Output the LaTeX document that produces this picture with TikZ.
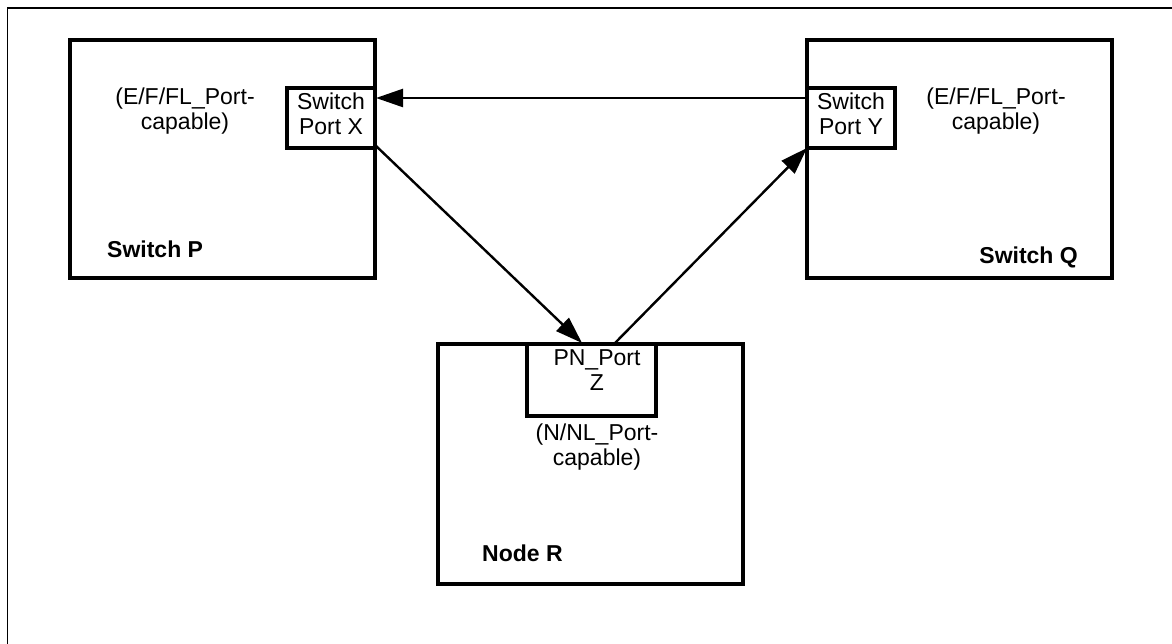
\documentclass[tikz,border=0pt]{standalone}
\usepackage{fontspec}
\setmainfont{Liberation Sans}
\usetikzlibrary{arrows.meta}
\begin{document}
\begin{tikzpicture}[x=1pt,y=-1pt,
  bigbox/.style={draw,line width=3.2pt,inner sep=0pt},
  portbox/.style={draw,line width=3.2pt,inner sep=0pt},
  txt/.style={font=\fontsize{23}{25}\selectfont,align=center,inner sep=0pt},
  lbl/.style={font=\fontsize{23}{25}\selectfont\bfseries,inner sep=0pt},
  conn/.style={line width=2.4pt,-{Triangle[length=27pt,width=18pt]}}]
\useasboundingbox (0,0) rectangle (1172,644);
\draw[line width=1.8pt] (7.5,644) -- (7.5,8) -- (1172,8);
% Switch P
\draw[bigbox] (70,40) rectangle (375,278);
\draw[portbox] (287,88) rectangle (375,148);
\node[draw=none,inner sep=0pt,minimum width=88pt,minimum height=60pt] (X) at (331,118) {};
\node[txt] (xt) at (331,114) {Switch\\Port X};
\node[txt] (pc) at (185,111) {(E/F/FL\_Port-\\capable)};
\node[lbl,anchor=west] (sp) at (107,249) {Switch P};
% Switch Q
\draw[bigbox] (807,40) rectangle (1112,278);
\draw[portbox] (807,88) rectangle (895,148);
\node[draw=none,inner sep=0pt,minimum width=88pt,minimum height=60pt] (Y) at (851,118) {};
\node[txt] (yt) at (851,114) {Switch\\Port Y};
\node[txt] (qc) at (996,111) {(E/F/FL\_Port-\\capable)};
\node[lbl,anchor=east] (sq) at (1078,257) {Switch Q};
% Node R
\draw[bigbox] (438,344) rectangle (743,584);
\draw[portbox] (527,344) rectangle (656,416);
\node[draw=none,inner sep=0pt,minimum width=129pt,minimum height=72pt] (Z) at (591.5,380) {};
\node[txt] (zt) at (597,370) {PN\_Port\\Z};
\node[txt] (rc) at (597,447) {(N/NL\_Port-\\capable)};
\node[lbl,anchor=west] (nr) at (482,553) {Node R};
% connectors
\coordinate (xr) at (376,98);
\coordinate (yl) at (807,98);
\coordinate (xb) at (375,145);
\coordinate (za) at (582,343);
\coordinate (zb) at (615,343);
\coordinate (yb) at (807,148);
\draw[conn] (yl) -- (xr);
\draw[conn] (xb) -- (za);
\draw[conn] (zb) -- (yb);
\end{tikzpicture}
\end{document}
